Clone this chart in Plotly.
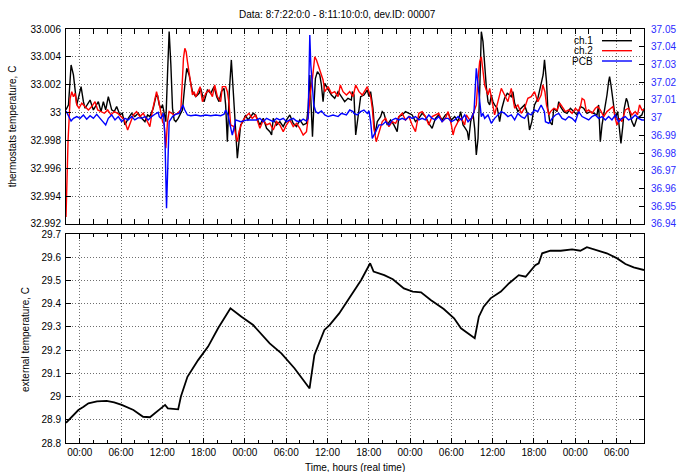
import pandas as pd
import plotly.graph_objects as go

# Recording window: 8/7 22:00 .. 8/11 10:00 (84 hours)
START = pd.Timestamp("2013-08-07 22:00")
SPAN_H = 84
TICK0 = "2013-08-08 00:00"

# (hours since start, temperature C)
ch1_points = [
    (0.0, 33.0002), (0.36, 33.00055), (0.74, 33.00342), (1.08, 33.0027), (1.57, 33.00055),
    (2.19, 33.00186), (2.53, 33.00078), (2.77, 33.00031), (3.5, 33.0009), (3.98, 33.00019),
    (4.7, 33.00078), (5.09, 33.00007), (5.43, 33.00078), (5.77, 33.00019), (6.15, 33.00114),
    (6.64, 33.00019), (7.02, 33.00007), (7.36, 33.00043), (7.84, 32.99983), (8.18, 32.99995),
    (8.57, 32.99911), (9.05, 32.99959), (9.54, 32.99995), (10.0, 32.99971), (10.5, 32.99995),
    (11.0, 32.99959), (11.47, 32.99935), (11.86, 32.99983), (12.19, 32.99971), (12.68, 33.00031),
    (13.06, 33.00114), (13.3, 33.00126), (13.55, 33.00055), (13.79, 33.00031), (14.03, 33.00055),
    (14.27, 32.99995), (14.51, 32.99935), (14.75, 33.0027), (14.99, 33.00581), (15.24, 33.00342),
    (15.48, 33.00031), (15.72, 32.99947), (15.96, 32.99935), (16.3, 32.99959), (16.69, 32.99995),
    (16.93, 33.00019), (17.27, 33.00198), (17.55, 33.00318), (17.89, 33.0027), (18.14, 33.0021),
    (18.38, 33.0015), (18.86, 33.00114), (19.34, 33.00138), (19.58, 33.00174), (20.07, 33.00078),
    (20.55, 33.00162), (21.03, 33.00138), (21.52, 33.00186), (21.9, 33.00114), (22.24, 33.00078),
    (22.58, 33.0015), (22.97, 33.00174), (23.2, 33.00055), (23.45, 32.99791), (23.73, 33.0015),
    (24.03, 33.00378), (24.32, 33.0015), (24.51, 32.99935), (24.7, 32.99767), (24.9, 32.99672),
    (25.14, 32.99791), (25.38, 32.99911), (25.72, 32.99935), (26.1, 32.99983), (26.44, 32.99947),
    (26.83, 32.99971), (27.21, 32.99995), (27.55, 32.99983), (28.18, 32.99911), (28.67, 32.99959),
    (29.15, 32.99887), (29.63, 32.99863), (29.88, 32.99839), (30.12, 32.99959), (30.6, 32.99911),
    (31.08, 32.99935), (31.57, 32.99899), (32.05, 32.99947), (32.53, 32.99983), (33.02, 32.99923),
    (33.5, 32.99899), (33.98, 32.99947), (34.47, 32.99911), (34.95, 32.99923), (35.19, 33.00031),
    (35.43, 33.0027), (35.62, 33.00007), (35.82, 32.99827), (36.01, 33.00031), (36.25, 33.00246),
    (36.54, 33.00294), (36.88, 33.0027), (37.12, 33.00198), (37.36, 33.00078), (37.61, 33.0021),
    (38.09, 33.00162), (38.57, 33.00126), (39.05, 33.00102), (39.54, 33.0015), (40.02, 33.00114),
    (40.5, 33.00078), (40.98, 33.00102), (41.47, 33.0009), (41.61, 33.0015), (41.85, 33.00126),
    (42.1, 32.99839), (42.48, 33.00007), (42.82, 33.00114), (43.3, 33.00126), (43.79, 33.00162),
    (44.03, 33.00114), (44.27, 33.0015), (44.61, 33.00031), (44.9, 32.99839), (45.24, 32.99935),
    (45.72, 32.99971), (45.96, 33.00007), (46.2, 32.99995), (46.69, 32.99911), (47.17, 32.99947),
    (47.65, 32.99911), (48.13, 32.99863), (48.38, 32.99971), (48.86, 32.99983), (49.34, 33.00007),
    (49.83, 32.99995), (50.31, 32.99983), (50.79, 32.99935), (51.28, 32.99959), (51.76, 32.99995),
    (52.24, 32.99971), (52.72, 32.99923), (53.21, 32.99887), (53.69, 32.99959), (54.17, 32.99983),
    (54.66, 32.99947), (55.14, 32.99983), (55.53, 32.99995), (56.01, 32.99947), (56.49, 32.99971),
    (56.98, 32.99935), (57.36, 33.00007), (57.7, 32.99911), (58.04, 32.99887), (58.33, 32.99863),
    (58.52, 32.99803), (58.81, 32.99935), (59.15, 32.99995), (59.39, 32.99887), (59.63, 32.99696),
    (59.88, 32.99815), (60.12, 33.0015), (60.36, 33.00581), (60.6, 33.00509), (60.84, 33.00318),
    (61.08, 33.00186), (61.33, 33.00078), (61.57, 33.00055), (61.81, 33.00126), (62.05, 33.00078),
    (62.29, 33.00055), (62.68, 33.00031), (63.02, 32.99935), (63.35, 33.00031), (63.74, 33.00102),
    (64.13, 33.00138), (64.47, 33.00126), (64.71, 33.00114), (64.95, 33.0015), (65.2, 33.00067),
    (65.67, 33.00007), (66.16, 33.00031), (66.64, 33.00055), (67.12, 32.99983), (67.36, 32.99875),
    (67.7, 32.99935), (68.09, 33.00055), (68.57, 33.00102), (69.05, 33.00198), (69.34, 33.0027),
    (69.54, 33.00378), (69.83, 33.00222), (70.02, 33.00031), (70.31, 32.99935), (70.65, 32.99911),
    (70.89, 33.00031), (71.37, 33.00007), (71.61, 33.00078), (71.86, 33.00043), (72.34, 33.00007),
    (72.82, 32.99995), (73.3, 33.00031), (73.79, 33.00007), (74.27, 32.99983), (74.76, 33.00043),
    (75.24, 33.00031), (75.72, 32.99995), (76.2, 33.00007), (76.69, 32.99995), (77.17, 32.99983),
    (77.41, 33.00055), (77.65, 32.99791), (77.9, 32.99911), (78.14, 32.99983), (78.38, 33.00031),
    (78.62, 33.00126), (78.86, 33.00222), (79.0, 33.00258), (79.2, 33.00198), (79.49, 33.00078),
    (79.83, 32.99959), (80.17, 33.00007), (80.45, 32.99887), (80.65, 32.99779), (80.94, 32.99911),
    (81.13, 33.00031), (81.43, 33.00102), (81.62, 33.00078), (81.9, 33.00007), (82.24, 32.99935),
    (82.58, 32.99899), (82.97, 32.99959), (83.35, 32.99971), (83.69, 32.99983), (84.0, 33.0003),
]

ch2_points = [
    (0.0, 32.9925), (0.3, 32.998), (0.6, 33.001), (0.84, 33.0015), (1.08, 33.00114),
    (1.32, 33.00138), (1.57, 33.00055), (1.9, 33.00031), (2.29, 33.00067), (2.77, 33.00043),
    (3.26, 33.00019), (3.74, 33.00043), (4.22, 33.00078), (4.61, 33.00019), (5.09, 33.00007),
    (5.57, 32.99995), (6.06, 33.00019), (6.54, 32.99983), (7.02, 33.00007), (7.51, 32.99995),
    (7.99, 32.99971), (8.48, 32.99947), (8.96, 32.99875), (9.29, 32.99923), (9.78, 32.99983),
    (10.26, 33.00007), (10.74, 32.99971), (11.23, 32.99995), (11.71, 32.99947), (12.19, 32.99899),
    (12.53, 33.00007), (12.82, 33.00067), (13.16, 33.0015), (13.5, 33.00078), (13.79, 33.00007),
    (14.03, 32.99935), (14.27, 32.99911), (14.51, 32.99744), (14.75, 32.99935), (14.99, 33.00007),
    (15.33, 32.99995), (15.72, 32.99983), (16.2, 32.99995), (16.69, 33.00019), (16.88, 33.00198),
    (17.07, 33.00389), (17.27, 33.00461), (17.46, 33.00437), (17.65, 33.00366), (17.89, 33.00294),
    (18.14, 33.0021), (18.38, 33.00126), (18.62, 33.0015), (18.86, 33.00114), (19.1, 33.00138),
    (19.49, 33.00186), (19.83, 33.00078), (20.31, 33.00138), (20.79, 33.00162), (21.28, 33.00114),
    (21.61, 33.00198), (22.0, 33.00114), (22.48, 33.00078), (22.72, 33.00186), (23.2, 33.00186),
    (23.45, 33.0015), (23.69, 33.00067), (23.93, 32.99911), (24.41, 32.99899), (24.7, 32.99839),
    (24.9, 32.99791), (25.14, 32.99863), (25.62, 32.99935), (26.1, 32.99971), (26.59, 32.99995),
    (27.07, 32.99959), (27.55, 32.99983), (28.18, 32.99887), (28.67, 32.99947), (29.15, 32.99911),
    (29.63, 32.99923), (30.12, 32.99875), (30.6, 32.99935), (31.08, 32.99911), (31.57, 32.99863),
    (32.05, 32.99911), (32.53, 32.99947), (33.02, 32.99899), (33.5, 32.99923), (33.98, 32.99887),
    (34.47, 32.99839), (34.95, 32.99863), (35.19, 32.99959), (35.53, 33.0015), (35.82, 33.00246),
    (36.15, 33.00401), (36.4, 33.00378), (36.64, 33.00342), (37.12, 33.0027), (37.36, 33.00234),
    (37.61, 33.0015), (38.09, 33.00186), (38.57, 33.00138), (39.05, 33.0015), (39.54, 33.00114),
    (39.87, 33.00198), (40.26, 33.0015), (40.75, 33.00126), (41.23, 33.0015), (41.71, 33.00114),
    (42.1, 33.00198), (42.58, 33.0015), (43.06, 33.00126), (43.55, 33.00174), (43.79, 33.00186),
    (44.03, 33.0015), (44.27, 33.00114), (44.51, 33.00031), (44.75, 32.99887), (45.09, 32.99791),
    (45.48, 32.99863), (45.96, 32.99935), (46.45, 32.99959), (46.93, 32.99899), (47.41, 32.99935),
    (47.9, 32.99923), (48.38, 32.99971), (48.86, 32.99995), (49.34, 32.99947), (49.83, 32.99971),
    (50.31, 32.99911), (50.79, 32.99863), (51.28, 32.99995), (51.76, 33.00007), (52.24, 32.99971),
    (52.72, 32.99911), (53.21, 32.99971), (53.69, 32.99983), (54.17, 32.99995), (54.66, 32.99935),
    (55.14, 32.99959), (55.53, 33.00007), (56.01, 32.99911), (56.25, 32.99839), (56.49, 32.99887),
    (56.98, 32.99935), (57.46, 32.99959), (57.94, 32.99911), (58.18, 32.99983), (58.67, 32.99947),
    (59.0, 32.99959), (59.29, 33.00007), (59.63, 33.00055), (59.88, 33.00246), (60.12, 33.00366),
    (60.36, 33.00401), (60.6, 33.00318), (60.84, 33.00198), (61.08, 33.00162), (61.33, 33.00126),
    (61.57, 33.00174), (61.81, 33.00102), (62.05, 33.00055), (62.29, 32.99983), (62.77, 33.00078),
    (63.26, 33.00174), (63.74, 33.00126), (64.22, 33.00078), (64.71, 33.00174), (65.2, 33.00031),
    (65.67, 33.00055), (66.16, 32.99995), (66.64, 33.00031), (67.12, 33.00102), (67.61, 33.00114),
    (68.09, 33.0015), (68.57, 33.00078), (69.05, 33.00126), (69.3, 33.00198), (69.6, 33.0015),
    (69.83, 33.00055), (70.17, 32.99983), (70.41, 33.00007), (70.89, 33.00031), (71.37, 33.00019),
    (71.76, 33.00067), (72.1, 33.00043), (72.58, 33.00007), (73.07, 33.00019), (73.55, 32.99995),
    (74.03, 33.00031), (74.51, 33.00007), (74.76, 33.00043), (75.0, 33.00102), (75.33, 33.0009),
    (75.63, 33.00007), (75.96, 33.00019), (76.45, 32.99995), (76.93, 33.00031), (77.27, 33.00043),
    (77.65, 33.00019), (78.14, 32.99971), (78.62, 33.00007), (79.1, 33.00031), (79.49, 33.00043),
    (79.83, 32.99959), (80.07, 32.99911), (80.45, 32.99959), (80.79, 32.99935), (81.28, 33.00019),
    (81.76, 33.00031), (82.24, 32.99983), (82.72, 33.00007), (83.06, 32.99983), (83.35, 33.00055),
    (83.69, 33.00019), (84.0, 33.0002),
]

pcb_points = [
    (0.0, 37.0038), (0.45, 37.0006), (0.74, 36.9981), (1.08, 36.9996), (1.57, 37.0006),
    (2.05, 36.9996), (2.53, 37.0015), (3.01, 36.9991), (3.5, 37.0011), (3.98, 36.9996),
    (4.46, 37.0019), (4.95, 36.9996), (5.43, 36.9977), (5.77, 36.9959), (6.15, 36.9996),
    (6.64, 37.0015), (7.12, 36.9987), (7.6, 37.0006), (8.09, 36.9977), (8.57, 36.9996),
    (9.05, 36.9987), (9.54, 37.0006), (10.0, 36.9987), (10.5, 37.0), (11.0, 36.9996),
    (11.47, 37.0006), (11.95, 36.9987), (12.43, 37.0006), (12.92, 37.0019), (13.4, 37.003),
    (13.55, 37.0006), (13.79, 36.9996), (14.17, 37.0024), (14.37, 36.9902), (14.61, 36.9489),
    (14.85, 36.9733), (14.99, 36.9977), (15.48, 37.0006), (15.96, 37.0019), (16.45, 37.0024),
    (16.78, 37.0053), (16.98, 37.0071), (17.27, 37.0043), (17.65, 37.0015), (18.14, 37.0011),
    (18.86, 37.0015), (19.58, 37.0009), (20.31, 37.0015), (21.03, 37.0011), (21.76, 37.0015),
    (22.48, 37.0011), (22.97, 37.0019), (23.2, 37.0043), (23.55, 37.0015), (23.84, 36.9959),
    (24.17, 36.9902), (24.41, 36.994), (24.66, 36.9987), (25.38, 36.9977), (26.35, 36.9987),
    (27.31, 36.9987), (27.7, 36.9987), (28.18, 36.9996), (28.67, 36.9977), (29.15, 36.9996),
    (29.63, 36.9987), (30.12, 36.9977), (30.6, 36.9996), (31.08, 36.9987), (31.57, 36.9996),
    (32.05, 36.9977), (32.53, 36.9987), (33.02, 36.9996), (33.5, 36.9981), (33.98, 36.9977),
    (34.47, 36.9992), (34.95, 36.9981), (35.19, 36.9996), (35.33, 37.0241), (35.43, 37.0466),
    (35.58, 37.0297), (35.77, 37.0184), (36.01, 37.0071), (36.3, 37.0034), (36.64, 37.0024),
    (37.12, 37.0038), (37.61, 37.0015), (38.09, 37.0006), (38.81, 37.0015), (39.54, 37.0006),
    (40.02, 37.0024), (40.75, 37.0015), (41.23, 37.0043), (41.71, 37.0034), (41.85, 37.0024),
    (42.34, 37.0015), (42.82, 37.0034), (43.3, 37.0043), (43.79, 37.0024), (44.03, 37.0038),
    (44.27, 36.9977), (44.51, 36.9883), (45.0, 36.9921), (45.48, 36.9959), (45.96, 36.9959),
    (46.45, 36.9977), (46.93, 36.9959), (47.41, 36.9987), (47.9, 36.9996), (48.38, 36.9987),
    (48.86, 36.9996), (49.34, 36.9987), (49.83, 37.0006), (50.31, 36.9996), (50.79, 37.0006),
    (51.28, 36.9987), (51.76, 36.9996), (52.24, 36.9987), (52.72, 37.0015), (53.21, 36.9996),
    (53.69, 36.9987), (54.17, 37.0006), (54.66, 36.9977), (55.14, 36.9996), (55.53, 36.9996),
    (56.01, 36.9977), (56.49, 36.9987), (56.98, 37.0006), (57.46, 36.9987), (57.94, 37.0015),
    (58.43, 36.9977), (58.91, 36.9996), (59.29, 37.003), (59.49, 37.0184), (59.63, 37.0278),
    (59.88, 37.0184), (60.12, 37.0071), (60.36, 37.0006), (60.6, 37.0024), (60.84, 36.9996),
    (61.33, 37.0015), (61.81, 36.9968), (62.29, 36.9996), (62.77, 37.0015), (63.26, 37.0034),
    (63.74, 37.0024), (64.22, 37.0006), (64.71, 37.0015), (65.2, 36.9987), (65.67, 37.0024),
    (66.16, 37.0006), (66.64, 36.9996), (67.12, 37.0024), (67.61, 37.0015), (68.09, 37.0043),
    (68.57, 37.0034), (69.05, 37.0071), (69.53, 37.0034), (69.68, 36.9977), (70.17, 36.9968),
    (70.65, 36.9996), (71.13, 37.0015), (71.61, 37.0024), (72.1, 36.9996), (72.58, 36.9987),
    (73.07, 37.0006), (73.55, 36.9996), (74.03, 36.9977), (74.51, 37.0034), (75.0, 37.0006),
    (75.48, 36.9996), (75.96, 36.9987), (76.45, 37.0006), (76.93, 37.0015), (77.41, 36.9996),
    (77.9, 37.0006), (78.38, 36.9987), (78.86, 37.0006), (79.34, 36.9987), (79.83, 37.0015),
    (80.31, 36.9977), (80.79, 36.9996), (81.28, 37.0006), (81.76, 36.9987), (82.24, 36.9996),
    (82.72, 37.0015), (83.21, 36.9996), (83.69, 36.9987), (84.0, 36.9987),
]

ext_points = [
    (0.0, 28.887), (1.8, 28.942), (2.5, 28.955), (3.26, 28.971), (4.5, 28.979),
    (5.9, 28.981), (7.0, 28.975), (8.1, 28.964), (9.8, 28.942), (11.2, 28.913),
    (12.2, 28.911), (13.4, 28.942), (14.4, 28.964), (14.8, 28.949), (16.3, 28.945),
    (16.7, 29.0), (17.65, 29.085), (19.2, 29.157), (20.65, 29.215), (22.1, 29.294),
    (23.9, 29.38), (25.5, 29.344), (27.2, 29.308), (29.6, 29.229), (31.3, 29.186),
    (33.2, 29.122), (35.4, 29.035), (35.5, 29.057), (36.1, 29.179), (37.55, 29.287),
    (38.3, 29.308), (39.7, 29.358), (41.4, 29.437), (42.9, 29.502), (44.2, 29.574),
    (44.7, 29.538), (46.25, 29.523), (47.5, 29.505), (49.1, 29.466), (50.4, 29.452),
    (51.6, 29.449), (53.0, 29.416), (54.9, 29.377), (56.4, 29.337), (57.4, 29.294),
    (59.1, 29.255), (59.4, 29.251), (60.0, 29.344), (60.7, 29.387), (61.7, 29.423),
    (63.2, 29.452), (64.4, 29.488), (65.8, 29.523), (66.8, 29.516), (68.2, 29.566),
    (68.7, 29.574), (69.2, 29.617), (70.4, 29.628), (71.9, 29.628), (73.55, 29.634),
    (74.75, 29.628), (75.7, 29.643), (77.4, 29.628), (78.6, 29.617), (80.1, 29.595),
    (81.3, 29.571), (82.5, 29.556), (84.0, 29.545),
]

series_names = ["ch.1", "ch.2", "PCB"]
series_colors = ["#000000", "#ff0000", "#0000ff"]
axis_blue = "#2a2aff"

FONT = "Liberation Sans, Arial, Helvetica, sans-serif"
GRID = "#6e6e6e"


def to_time(points):
    hrs, vals = zip(*points)
    return START + pd.to_timedelta(list(hrs), unit="h"), list(vals)


fig = go.Figure()

for pts, name, color, yax in zip(
    [ch1_points, ch2_points, pcb_points], series_names, series_colors, ["y", "y", "y2"]
):
    t, v = to_time(pts)
    fig.add_trace(go.Scatter(x=t, y=v, mode="lines", name=name, xaxis="x", yaxis=yax,
                             line=dict(color=color, width=1.4), showlegend=False))

t, v = to_time(ext_points)
fig.add_trace(go.Scatter(x=t, y=v, mode="lines", xaxis="x2", yaxis="y3",
                         line=dict(color="black", width=1.8), showlegend=False))

x_range = [START, START + pd.Timedelta(hours=SPAN_H)]
six_h = 6 * 3600 * 1000
two_h = 2 * 3600 * 1000

xcommon = dict(
    type="date", range=x_range, tick0=TICK0, dtick=six_h, tickformat="%H:%M",
    ticks="inside", ticklen=5, tickcolor="black", showline=True, linecolor="black",
    linewidth=1, mirror="allticks", showgrid=True, gridcolor=GRID, griddash="1px,2px",
    gridwidth=1, zeroline=False,
    minor=dict(dtick=two_h, tick0=TICK0, ticks="inside", ticklen=3, tickcolor="black",
               showgrid=False),
    tickfont=dict(family=FONT, size=10, color="black"),
)

fig.update_layout(
    width=678, height=472,
    margin=dict(l=66, r=34, t=29, b=29, autoexpand=False),
    paper_bgcolor="white", plot_bgcolor="white",
    font=dict(family=FONT, size=10, color="black"),
    xaxis=dict(xcommon, anchor="y", showticklabels=False),
    xaxis2=dict(xcommon, anchor="y3", matches="x", showticklabels=True),
    yaxis=dict(
        domain=[0.529, 1.0], anchor="x", range=[32.992, 33.006], tick0=32.992, dtick=0.002,
        ticks="inside", ticklen=5, tickcolor="black", showline=True, linecolor="black",
        linewidth=1, mirror=True, showgrid=True, gridcolor=GRID, griddash="1px,2px",
        zeroline=False, tickfont=dict(family=FONT, size=10, color="black"),
        ticklabelstandoff=2,
    ),
    yaxis2=dict(
        overlaying="y", side="right", anchor="x", range=[36.94, 37.05], tick0=36.94,
        dtick=0.01, ticks="inside", ticklen=5, tickcolor="black", showline=False,
        showgrid=False, zeroline=False, tickfont=dict(family=FONT, size=10, color=axis_blue),
        ticklabelstandoff=6,
    ),
    yaxis3=dict(
        domain=[0.0, 0.5048], anchor="x2", range=[28.8, 29.7], tick0=28.8, dtick=0.1,
        ticks="inside", ticklen=5, tickcolor="black", showline=True, linecolor="black",
        linewidth=1, mirror="allticks", showgrid=True, gridcolor=GRID, griddash="1px,2px",
        zeroline=False, tickfont=dict(family=FONT, size=10, color="black"),
        ticklabelstandoff=2,
    ),
)

annotations = [
    dict(text="Data: 8:7:22:0:0 - 8:11:10:0:0, dev.ID: 00007", xref="paper", yref="paper",
         x=0.47, y=1.034, xanchor="center", yanchor="middle", showarrow=False,
         font=dict(size=10)),
    dict(text="thermostats temperature, C", xref="paper", yref="paper", x=-0.092, y=0.7645,
         textangle=-90, xanchor="center", yanchor="middle", showarrow=False,
         font=dict(size=10)),
    dict(text="external temperature, C", xref="paper", yref="paper", x=-0.071, y=0.2512,
         textangle=-90, xanchor="center", yanchor="middle", showarrow=False,
         font=dict(size=10)),
    dict(text="Time, hours (real time)", xref="paper", yref="paper", x=0.5, y=-0.059,
         xanchor="center", yanchor="middle", showarrow=False, font=dict(size=10)),
]

# key: label right-aligned, sample line to its right
key_rows = [0.9717, 0.9476, 0.9227]
shapes = []
for name, color, ky in zip(series_names, series_colors, key_rows):
    annotations.append(dict(text=name, xref="paper", yref="paper", x=0.915, y=ky,
                            xanchor="right", yanchor="middle", showarrow=False,
                            font=dict(size=10)))
    shapes.append(dict(type="line", xref="paper", yref="paper", x0=0.9273, x1=0.9792,
                       y0=ky, y1=ky, line=dict(color=color, width=1.4)))

fig.update_layout(annotations=annotations, shapes=shapes)

fig.write_html("out.html")
